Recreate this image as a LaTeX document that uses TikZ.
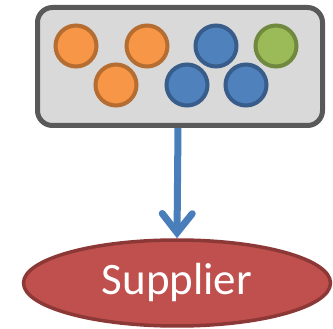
\documentclass[tikz,border=0pt]{standalone}
\usepackage{fontspec}
\setmainfont{Carlito}
\usetikzlibrary{arrows.meta,shapes.geometric}
\definecolor{boxfill}{HTML}{D9D9D9}
\definecolor{boxline}{HTML}{595959}
\definecolor{orfill}{HTML}{F79646}
\definecolor{orline}{HTML}{B66D31}
\definecolor{blfill}{HTML}{4F81BD}
\definecolor{blline}{HTML}{385D8A}
\definecolor{grfill}{HTML}{9BBB59}
\definecolor{grline}{HTML}{71893F}
\definecolor{redfill}{HTML}{C0504D}
\definecolor{redline}{HTML}{8C3836}
\definecolor{arrowcol}{HTML}{4A7EBB}
\begin{document}
\begin{tikzpicture}[x=1pt,y=-1pt,
  ball/.style={circle,minimum size=41pt,inner sep=0pt,line width=4pt},
  orball/.style={ball,draw=orline,fill=orfill},
  blball/.style={ball,draw=blline,fill=blfill},
  grball/.style={ball,draw=grline,fill=grfill}]
\useasboundingbox (0,0) rectangle (333,329);
\node[draw=boxline,fill=boxfill,line width=5pt,rounded corners=15pt,
  minimum width=285pt,minimum height=118pt,inner sep=0pt] (box) at (180,66.5) {};
\node[orball] (o1) at (76,46) {};
\node[orball] (o2) at (147,46) {};
\node[orball] (o3) at (116,85) {};
\node[blball] (b1) at (216,46) {};
\node[grball] (g1) at (276,46) {};
\node[blball] (b2) at (187,85) {};
\node[blball] (b3) at (246,85) {};
\node[ellipse,draw=redline,fill=redfill,line width=3.5pt,
  minimum width=307pt,minimum height=86pt,inner sep=0pt,
  text=white,font=\fontsize{45}{50}\selectfont] (sup) at (177,283) {Supplier};
\draw[arrowcol,line width=7pt,-{Straight Barb[length=19pt,width=30pt,line cap=round]}]
  (box.south -| 178,0) -- (sup.north);
\end{tikzpicture}
\end{document}
